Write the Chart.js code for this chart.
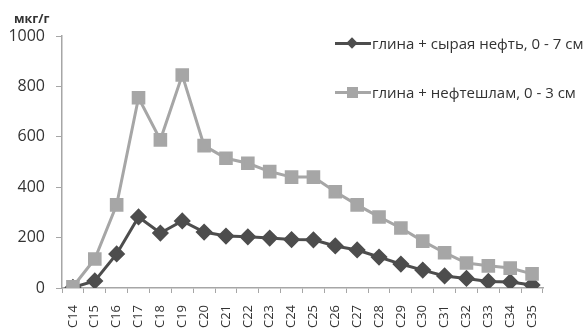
<!DOCTYPE html>
<html>
<head>
<meta charset="utf-8">
<script src="https://cdn.jsdelivr.net/npm/chart.js@4/dist/chart.umd.min.js"></script>
<style>
  html, body { margin: 0; padding: 0; background: #fff; }
  #wrap { position: relative; width: 585px; height: 334px; overflow: hidden; font-family: "Open Sans", "Liberation Sans", sans-serif; }
  canvas { position: absolute; left: 0; top: 0; }
  .unit { position: absolute; left: 14px; top: 10px; font-size: 12.5px; font-weight: bold; color: #333; }
  .leg { position: absolute; left: 335px; font-size: 15px; color: #333; white-space: nowrap; display: flex; align-items: center; }
  .leg .ln { position: relative; width: 36px; height: 3px; margin-right: 1px; }
  .leg .mk { position: absolute; left: 13px; }
</style>
</head>
<body>
<div id="wrap">
  <canvas id="c" width="585" height="334"></canvas>
  <div class="unit">мкг/г</div>
  <div class="leg" style="top:33px">
    <span class="ln" style="background:#4d4d4d"><span class="mk" style="top:-3px;width:8px;height:8px;background:#4d4d4d;transform:rotate(45deg)"></span></span>глина + сырая нефть, 0 - 7 см
  </div>
  <div class="leg" style="top:82px">
    <span class="ln" style="background:#a6a6a6"><span class="mk" style="top:-4px;left:12px;width:11px;height:11px;background:#a6a6a6"></span></span>глина + нефтешлам, 0 - 3 см
  </div>
</div>
<script>
// alkane chain lengths
const categories = ['C14','C15','C16','C17','C18','C19','C20','C21','C22','C23','C24','C25','C26','C27','C28','C29','C30','C31','C32','C33','C34','C35'];
// clay + crude oil, 0-7 cm
const crudeOil = [2, 28, 135, 282, 218, 266, 222, 206, 203, 198, 192, 191, 167, 151, 123, 95, 71, 48, 38, 26, 24, 12];
// clay + oil sludge, 0-3 cm
const oilSludge = [5, 115, 330, 755, 588, 845, 565, 515, 495, 462, 440, 440, 382, 330, 282, 238, 186, 140, 99, 88, 79, 56];
const yTicks = [0, 200, 400, 600, 800, 1000];

const FONT = "'Open Sans', 'Liberation Sans', sans-serif";

new Chart(document.getElementById('c'), {
  type: 'line',
  data: {
    labels: categories,
    datasets: [
      {
        label: 'глина + нефтешлам, 0 - 3 см',
        data: oilSludge,
        borderColor: '#a6a6a6',
        backgroundColor: '#a6a6a6',
        borderWidth: 3,
        pointStyle: 'rect',
        pointRadius: 7.5,
        pointHoverRadius: 7.5,
        tension: 0
      },
      {
        label: 'глина + сырая нефть, 0 - 7 см',
        data: crudeOil,
        borderColor: '#4d4d4d',
        backgroundColor: '#4d4d4d',
        borderWidth: 3,
        pointStyle: 'rectRot',
        pointRadius: 6.5,
        pointHoverRadius: 6.5,
        tension: 0
      }
    ]
  },
  options: {
    responsive: false,
    animation: false,
    devicePixelRatio: 1,
    layout: { padding: { left: 0, right: 42, top: 36, bottom: 0 } },
    plugins: { legend: { display: false }, tooltip: { enabled: false } },
    scales: {
      x: {
        offset: true,
        grid: { offset: true, drawOnChartArea: false, tickLength: 5, color: '#a6a6a6' },
        border: { color: '#a6a6a6', width: 1.5 },
        ticks: {
          autoSkip: false, maxRotation: 90, minRotation: 90, padding: 12,
          color: '#333', font: { family: FONT, size: 13 }
        },
        afterFit: s => { s.height = 46; }
      },
      y: {
        min: 0, max: 1000,
        afterBuildTicks: s => { s.ticks = yTicks.map(v => ({ value: v })); },
        grid: { drawOnChartArea: false, tickLength: 6, color: '#a6a6a6' },
        border: { color: '#a6a6a6', width: 1.5 },
        ticks: {
          padding: 11, color: '#333',
          font: { family: FONT, size: 16 },
          callback: v => String(v)
        },
        afterFit: s => { s.width = 62; }
      }
    }
  }
});
</script>
</body>
</html>
